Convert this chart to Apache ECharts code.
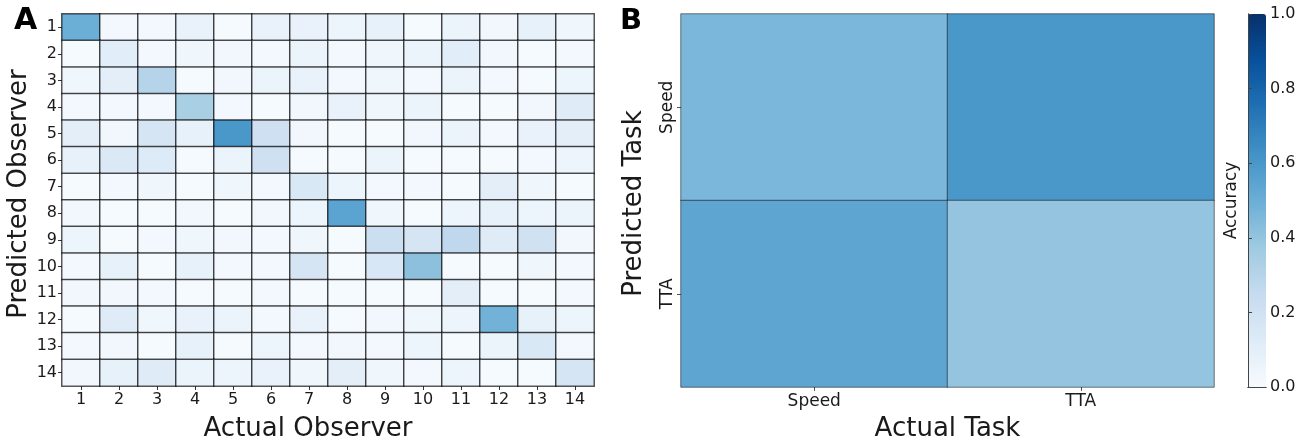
<!DOCTYPE html>
<html>
<head>
<meta charset="utf-8">
<script src="https://cdn.jsdelivr.net/npm/echarts@6/dist/echarts.min.js"></script>
<style>
html,body{margin:0;padding:0;background:#fff;}
#chart{width:1314px;height:441px;}
</style>
</head>
<body>
<div id="chart"></div>
<script>
// ---- Data ----
const observerLabels = ['1','2','3','4','5','6','7','8','9','10','11','12','13','14'];
// rows = predicted observer (1..14), columns = actual observer (1..14)
const observerMatrix = [
  [0.50,0.02,0.02,0.07,0.01,0.07,0.07,0.05,0.08,0.01,0.06,0.03,0.08,0.04],
  [0.01,0.11,0.02,0.04,0.03,0.02,0.06,0.02,0.04,0.06,0.11,0.03,0.01,0.02],
  [0.04,0.10,0.30,0.01,0.03,0.06,0.07,0.02,0.04,0.02,0.06,0.02,0.01,0.05],
  [0.02,0.02,0.02,0.34,0.02,0.01,0.03,0.07,0.04,0.06,0.01,0.01,0.03,0.12],
  [0.10,0.03,0.17,0.08,0.60,0.21,0.03,0.01,0.01,0.03,0.06,0.02,0.07,0.10],
  [0.08,0.14,0.13,0.01,0.06,0.21,0.01,0.01,0.06,0.01,0.01,0.01,0.02,0.05],
  [0.01,0.02,0.04,0.01,0.04,0.02,0.15,0.05,0.02,0.02,0.01,0.10,0.04,0.01],
  [0.03,0.01,0.01,0.03,0.01,0.03,0.05,0.55,0.04,0.01,0.05,0.08,0.05,0.06],
  [0.05,0.01,0.02,0.04,0.03,0.02,0.04,0.01,0.22,0.17,0.27,0.12,0.20,0.03],
  [0.02,0.08,0.01,0.08,0.02,0.02,0.17,0.01,0.16,0.42,0.01,0.01,0.04,0.02],
  [0.03,0.03,0.02,0.01,0.01,0.02,0.01,0.01,0.01,0.01,0.10,0.01,0.01,0.02],
  [0.01,0.12,0.04,0.07,0.06,0.02,0.07,0.01,0.03,0.04,0.05,0.48,0.08,0.05],
  [0.02,0.03,0.01,0.08,0.01,0.05,0.02,0.03,0.02,0.05,0.01,0.06,0.15,0.02],
  [0.03,0.08,0.12,0.06,0.05,0.07,0.04,0.10,0.04,0.02,0.05,0.01,0.01,0.17]
];
const taskLabels = ['Speed','TTA'];
// rows = predicted task, columns = actual task
const taskMatrix = [
  [0.46,0.60],
  [0.54,0.40]
];
const colorbarTicks = [0.0,0.2,0.4,0.6,0.8,1.0];
const blues = ['#f7fbff','#deebf7','#c6dbef','#9ecae1','#6baed6','#4292c6','#2171b5','#08519c','#08306b'];

function toCells(m){
  const out=[];
  m.forEach((row,r)=>row.forEach((v,c)=>out.push([c,r,v])));
  return out;
}

const FONT='DejaVu Sans';
const TXT='#1a1a1a';

const chart = echarts.init(document.getElementById('chart'), null, {renderer:'canvas'});
chart.setOption({
  backgroundColor:'#fff',
  animation:false,
  textStyle:{fontFamily:FONT,color:TXT},
  title:[
    {text:'A',left:14,top:6,padding:0,textStyle:{fontFamily:FONT,fontSize:30,fontWeight:'bold',color:'#000'}},
    {text:'B',left:620,top:7,padding:0,textStyle:{fontFamily:FONT,fontSize:29,fontWeight:'bold',color:'#000'}}
  ],
  grid:[
    {left:62,top:14,width:532,height:372,outerBoundsMode:'none',containLabel:false},
    {left:681,top:14,width:533,height:373,outerBoundsMode:'none',containLabel:false},
    {left:1248,top:14,width:18,height:373,outerBoundsMode:'none',containLabel:false}
  ],
  xAxis:[
    {gridIndex:0,type:'category',data:observerLabels,position:'bottom',
     axisLine:{show:false},axisTick:{show:true,alignWithLabel:true,length:4,lineStyle:{color:'#333'}},
     axisLabel:{fontSize:16,color:TXT,margin:6,fontFamily:FONT},splitLine:{show:false},
     name:'Actual Observer',nameLocation:'middle',nameGap:30,
     nameTextStyle:{fontSize:26,color:TXT,fontFamily:FONT,padding:[0,40,0,0]}},
    {gridIndex:1,type:'category',data:taskLabels,position:'bottom',
     axisLine:{show:false},axisTick:{show:true,alignWithLabel:true,length:4,lineStyle:{color:'#555'}},
     axisLabel:{fontSize:17,color:TXT,margin:6,fontFamily:FONT},splitLine:{show:false},
     name:'Actual Task',nameLocation:'middle',nameGap:29,nameTextStyle:{fontSize:26,color:TXT,fontFamily:FONT}},
    {gridIndex:2,type:'value',min:0,max:1,position:'bottom',z:10,
     axisLine:{show:true,lineStyle:{color:'#444',width:1}},axisTick:{show:false},axisLabel:{show:false},splitLine:{show:false}},
    {gridIndex:2,type:'value',min:0,max:1,position:'top',z:10,
     axisLine:{show:true,lineStyle:{color:'#444',width:1}},axisTick:{show:false},axisLabel:{show:false},splitLine:{show:false}}
  ],
  yAxis:[
    {gridIndex:0,type:'category',data:observerLabels,inverse:true,
     axisLine:{show:false},axisTick:{show:true,alignWithLabel:true,length:4,lineStyle:{color:'#333'}},
     axisLabel:{fontSize:16,color:TXT,margin:5,fontFamily:FONT},splitLine:{show:false},
     name:'Predicted Observer',nameLocation:'middle',nameGap:28,nameRotate:90,
     nameTextStyle:{fontSize:26,color:TXT,fontFamily:FONT,padding:[0,0,0,12]}},
    {gridIndex:1,type:'category',data:taskLabels,inverse:true,
     axisLine:{show:false},axisTick:{show:true,alignWithLabel:true,length:4,lineStyle:{color:'#555'}},
     axisLabel:{fontSize:17,color:TXT,margin:5,rotate:90,fontFamily:FONT},splitLine:{show:false},
     name:'Predicted Task',nameLocation:'middle',nameGap:34,nameRotate:90,
     nameTextStyle:{fontSize:26,color:TXT,fontFamily:FONT,padding:[0,6,0,0]}},
    {gridIndex:2,type:'value',min:0,max:1,position:'left',z:10,
     axisLine:{show:true,lineStyle:{color:'#444',width:1}},axisTick:{show:false},axisLabel:{show:false},splitLine:{show:false},
     name:'Accuracy',nameLocation:'middle',nameGap:8,nameRotate:90,nameTextStyle:{fontSize:17,color:TXT,fontFamily:FONT}},
    {gridIndex:2,type:'value',min:0,max:1,interval:0.2,position:'right',z:10,
     axisLine:{show:true,lineStyle:{color:'#444',width:1}},
     axisTick:{show:true,length:4,lineStyle:{color:'#444'}},
     axisLabel:{fontSize:16,color:TXT,margin:4,fontFamily:FONT,formatter:v=>v.toFixed(1)},
     splitLine:{show:false}}
  ],
  visualMap:[
    {type:'continuous',min:0,max:1,seriesIndex:0,show:false,inRange:{color:blues}},
    {type:'continuous',min:0,max:1,seriesIndex:1,show:true,calculable:false,
     left:1248,top:14,itemWidth:18,itemHeight:373,padding:0,orient:'vertical',
     text:null,showLabel:false,inRange:{color:blues}}
  ],
  series:[
    {type:'heatmap',xAxisIndex:0,yAxisIndex:0,data:toCells(observerMatrix),
     itemStyle:{borderColor:'rgba(0,0,0,0.65)',borderWidth:1.5},emphasis:{disabled:true}},
    {type:'heatmap',xAxisIndex:1,yAxisIndex:1,data:toCells(taskMatrix),
     itemStyle:{borderColor:'rgba(0,0,0,0.5)',borderWidth:1},emphasis:{disabled:true}}
  ]
});
</script>
</body>
</html>
